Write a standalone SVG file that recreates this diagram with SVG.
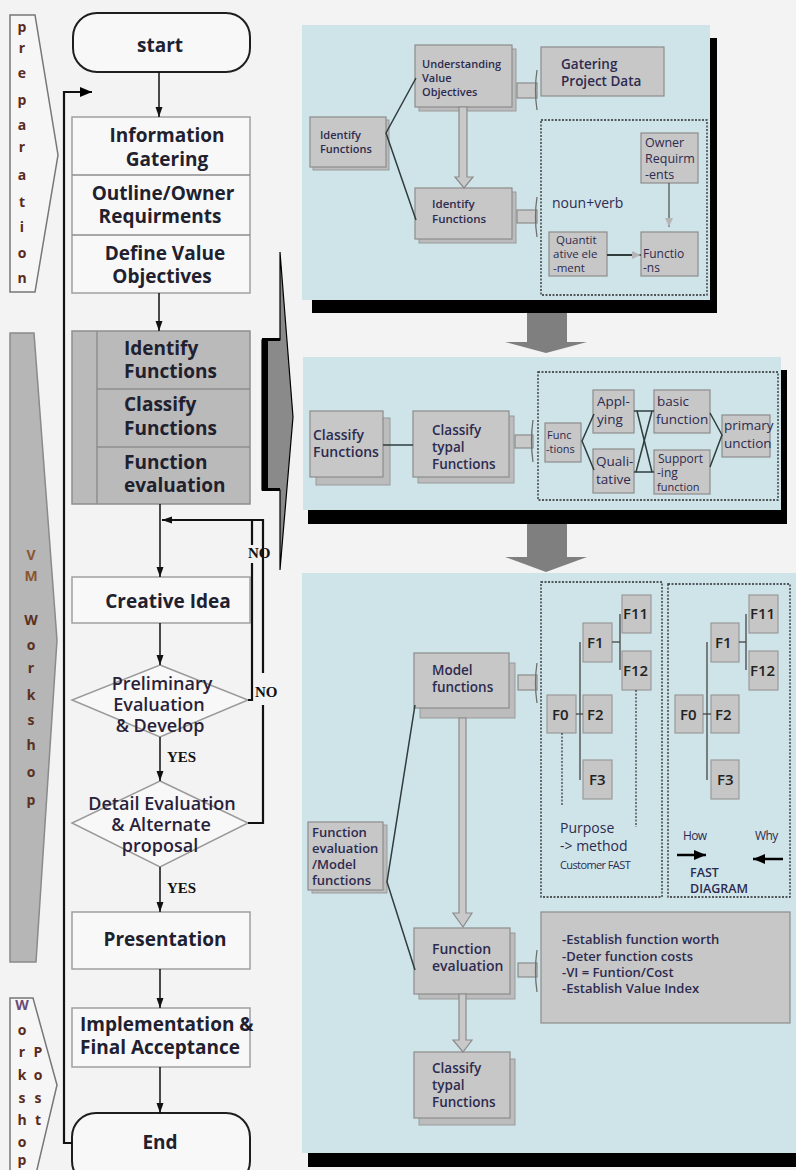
<svg xmlns="http://www.w3.org/2000/svg" width="796" height="1170" viewBox="0 0 796 1170">
<defs>
<style>
.bg{fill:#f3f3f3}
.lbox{fill:#f8f8f8;stroke:#a0a0a0;stroke-width:1.5}
.gbox{fill:#bababa;stroke:#8e8e8e;stroke-width:1.5}
.div{stroke:#8e8e8e;stroke-width:1.5}
.pill{fill:#f8f8f8;stroke:#1e1e1e;stroke-width:2}
.dia{fill:#f8f8f8;stroke:#9a9a9a;stroke-width:1.5}
.t1{font-family:"Open Sans","Noto Sans",sans-serif;font-weight:700;font-size:19px;fill:#20202e}
.tm{text-anchor:middle}
.td{font-family:"Open Sans","Noto Sans",sans-serif;font-weight:600;font-size:18px;fill:#2a1f3a;text-anchor:middle}
.yn{font-family:"Liberation Serif",serif;font-weight:700;font-size:15px;fill:#111}
.side{font-family:"Open Sans","Noto Sans",sans-serif;font-weight:700;font-size:14px;text-anchor:middle}
.flow{stroke:#111;stroke-width:1.5;fill:none}
.loop{stroke:#111;stroke-width:2.2;fill:none}
.panel{fill:#cfe4e9}
.blk{fill:#000}
.rb{fill:#c7c7c7;stroke:#8c8c8c;stroke-width:1.2}
.rs{fill:#bcbcbc;stroke:#9a9a9a;stroke-width:1}
.rt{font-family:"Open Sans","Noto Sans",sans-serif;font-weight:600;fill:#2d2b4f}
.rn{font-family:"Open Sans","Noto Sans",sans-serif;font-weight:400;fill:#2d2b4f}
.dash{fill:none;stroke:#2a2a2a;stroke-width:1.3;stroke-dasharray:2 1.5}
.hol{fill:#c9c9c9;stroke:#8c8c8c;stroke-width:1.2}
.bar{fill:none;stroke:#6f6f6f;stroke-width:1.3}
.rl{stroke:#2f3d3d;stroke-width:1.5;fill:none}
.fb{fill:#c6c6c6;stroke:#9a9a9a;stroke-width:1.2}
.ft{font-family:"Open Sans","Noto Sans",sans-serif;font-weight:600;font-size:15px;fill:#222}
</style>
<marker id="ah" markerWidth="10" markerHeight="8" refX="10" refY="4" orient="auto" markerUnits="userSpaceOnUse"><path d="M0,0.5 L10,4 L0,7.5 Z" fill="#111"/></marker>
<marker id="ahg" markerWidth="9" markerHeight="8" refX="9" refY="4" orient="auto" markerUnits="userSpaceOnUse"><path d="M0,0 L9,4 L0,8 Z" fill="#b5b5b5"/></marker>
<marker id="ahb" markerWidth="12" markerHeight="10" refX="12" refY="5" orient="auto" markerUnits="userSpaceOnUse"><path d="M0,0 L12,5 L0,10 Z" fill="#000"/></marker>
</defs>
<rect class="bg" x="0" y="0" width="796" height="1170"/>

<!-- phase labels -->
<g id="phase-preparation">
<polygon points="10,15 35,15 58,155 35,292 10,292" fill="#f6f6f6" stroke="#777" stroke-width="1.5"/>
<g class="side" fill="#5a2b1b">
<text x="22" y="32">p</text><text x="22" y="53">r</text><text x="22" y="78">e</text><text x="22" y="105">p</text><text x="22" y="130">a</text><text x="22" y="152">r</text><text x="22" y="180">a</text><text x="22" y="207">t</text><text x="22" y="232">i</text><text x="22" y="258">o</text><text x="22" y="283">n</text>
</g>
</g>
<g id="phase-vm-workshop">
<polygon points="10,333 34,333 57,640 36,962 10,962" fill="#b6b6b6" stroke="#8a8a8a" stroke-width="1.5"/>
<g class="side">
<text x="31" y="560" fill="#8a5530">V</text><text x="31" y="581" fill="#8a5530">M</text>
<g fill="#5a3020"><text x="31" y="625">W</text><text x="31" y="650">o</text><text x="31" y="673">r</text><text x="31" y="700">k</text><text x="31" y="725">s</text><text x="31" y="750">h</text><text x="31" y="777">o</text><text x="31" y="805">p</text></g>
</g>
</g>
<g id="phase-post-workshop">
<polygon points="10,998 33,998 57,1085 35,1178 10,1178" fill="#f6f6f6" stroke="#777" stroke-width="1.5"/>
<g class="side" fill="#5a2b1b">
<text x="22" y="1010" fill="#6a4a7a">W</text><text x="22" y="1035">o</text><text x="22" y="1057">r</text><text x="22" y="1080">k</text><text x="22" y="1103">s</text><text x="22" y="1125">h</text><text x="22" y="1147">o</text><text x="22" y="1165">p</text>
<text x="38" y="1057">P</text><text x="38" y="1080">o</text><text x="38" y="1103">s</text><text x="38" y="1125">t</text>
</g>
</g>

<!-- left flow nodes -->
<g id="n-start"><rect class="pill" x="73" y="13" width="177" height="59" rx="24"/><text class="t1 tm" x="160" y="52" font-size="25">start</text></g>
<g id="n-prep-steps">
<rect class="lbox" x="72" y="117" width="178" height="176"/>
<line class="div" x1="72" y1="175" x2="250" y2="175" stroke="#a0a0a0"/>
<line class="div" x1="72" y1="235" x2="250" y2="235" stroke="#a0a0a0"/>
<text class="t1 tm" x="167" y="142">Information</text><text class="t1 tm" x="167" y="166">Gatering</text>
<text class="t1 tm" x="163" y="200">Outline/Owner</text><text class="t1 tm" x="160" y="223">Requirments</text>
<text class="t1 tm" x="165" y="260">Define Value</text><text class="t1 tm" x="162" y="283">Objectives</text>
</g>
<g id="n-function-steps">
<rect class="gbox" x="72" y="331" width="178" height="173"/>
<line class="div" x1="97" y1="331" x2="97" y2="504"/>
<line class="div" x1="97" y1="389" x2="250" y2="389"/>
<line class="div" x1="97" y1="447" x2="250" y2="447"/>
<text class="t1" x="124" y="355">Identify</text><text class="t1" x="124" y="378">Functions</text>
<text class="t1" x="124" y="411">Classify</text><text class="t1" x="124" y="435">Functions</text>
<text class="t1" x="124" y="469">Function</text><text class="t1" x="124" y="492">evaluation</text>
</g>
<g id="n-creative"><rect class="lbox" x="72" y="577" width="178" height="46"/><text class="t1 tm" x="168" y="608">Creative Idea</text></g>
<g id="n-prelim"><polygon class="dia" points="160,665 248,700 160,737 72,700"/>
<text class="td" x="162" y="690">Preliminary</text><text class="td" x="159" y="711">Evaluation</text><text class="td" x="160" y="732">&amp; Develop</text></g>
<g id="n-detail"><polygon class="dia" points="160,781 248,823 160,867 72,823"/>
<text class="td" x="162" y="810">Detail Evaluation</text><text class="td" x="161" y="831">&amp; Alternate</text><text class="td" x="160" y="852">proposal</text></g>
<g id="n-presentation"><rect class="lbox" x="72" y="912" width="178" height="57"/><text class="t1 tm" x="165" y="946">Presentation</text></g>
<g id="n-implementation"><rect class="lbox" x="72" y="1008" width="178" height="59"/>
<text class="t1" x="80" y="1031" font-size="18">Implementation &amp;</text><text class="t1" x="80" y="1054" font-size="18">Final Acceptance</text></g>
<g id="n-end"><rect class="pill" x="72" y="1113" width="178" height="72" rx="24"/><text class="t1 tm" x="160" y="1149" font-size="22">End</text></g>

<!-- big transfer chevron -->
<g id="n-transfer-chevron">
<polygon points="262,340 280,340 280,252 293,417 280,570 280,490 262,490" fill="#8a8a8a" stroke="#000" stroke-width="1.2"/>
<rect x="262" y="340" width="6" height="150" fill="#000"/>
<rect x="262" y="338" width="18" height="3" fill="#000"/>
<rect x="262" y="488" width="18" height="3" fill="#000"/>
</g>

<!-- left connectors -->
<g id="connectors-left">
<line class="flow" x1="159" y1="72" x2="159" y2="117" marker-end="url(#ah)"/>
<line class="flow" x1="159" y1="293" x2="159" y2="331" marker-end="url(#ah)"/>
<line class="flow" x1="160" y1="504" x2="160" y2="577" marker-end="url(#ah)"/>
<line class="flow" x1="160" y1="623" x2="160" y2="665" marker-end="url(#ah)"/>
<line class="flow" x1="160" y1="737" x2="160" y2="781" marker-end="url(#ah)"/>
<line class="flow" x1="160" y1="867" x2="160" y2="912" marker-end="url(#ah)"/>
<line class="flow" x1="160" y1="969" x2="160" y2="1008" marker-end="url(#ah)"/>
<line class="flow" x1="160" y1="1067" x2="160" y2="1113" marker-end="url(#ah)"/>
<polyline class="loop" points="248,700 252,700 252,563"/>
<polyline class="loop" points="252,545 252,520"/>
<polyline class="loop" points="248,823 263,823 263,705"/>
<polyline class="loop" points="263,673 263,520 162,520" marker-end="url(#ah)"/>
<text class="yn" x="248" y="558">NO</text>
<text class="yn" x="255" y="697">NO</text>
<text class="yn" x="167" y="762">YES</text>
<text class="yn" x="167" y="893">YES</text>
<polyline class="loop" points="72,1143 64,1143 64,92 92,92" stroke-width="2.5" marker-end="url(#ahb)"/>
</g>

<!-- panel backgrounds -->
<g id="panel-frames">
<rect class="blk" x="312" y="38" width="405" height="275"/>
<rect class="panel" x="302" y="25" width="408" height="275"/>
<rect x="527" y="313" width="40" height="30" fill="#7f7f7f"/>
<polygon points="505,342 587,342 546,353" fill="#7f7f7f"/>
<rect class="blk" x="308" y="370" width="479" height="154"/>
<rect class="panel" x="303" y="357" width="478" height="153"/>
<rect x="527" y="524" width="40" height="34" fill="#7f7f7f"/>
<polygon points="505,557 587,557 546,572" fill="#7f7f7f"/>
<rect class="blk" x="308" y="1140" width="488" height="27"/>
<rect class="panel" x="302" y="573" width="494" height="580"/>
</g>

<!-- panel 1 -->
<g id="p1-identify"><rect class="rs" x="313" y="120" width="76" height="50"/><rect class="rb" x="310" y="117" width="76" height="50"/>
<text class="rt" x="320" y="139" font-size="11">Identify</text><text class="rt" x="320" y="153" font-size="11">Functions</text></g>
<g id="p1-understanding"><rect class="rs" x="419" y="49" width="97" height="62"/><rect class="rb" x="415" y="45" width="97" height="62"/>
<text class="rt" x="422" y="68" font-size="11">Understanding</text><text class="rt" x="422" y="82" font-size="11">Value</text><text class="rt" x="422" y="96" font-size="11">Objectives</text></g>
<g id="p1-gatering"><rect class="rb" x="541" y="47" width="123" height="49"/>
<text class="rt" x="561" y="69" font-size="13.5">Gatering</text><text class="rt" x="561" y="86" font-size="13.5">Project Data</text></g>
<g id="p1-identify2"><rect class="rs" x="419" y="192" width="97" height="51"/><rect class="rb" x="415" y="188" width="97" height="51"/>
<text class="rt" x="432" y="208" font-size="11.5">Identify</text><text class="rt" x="432" y="223" font-size="11.5">Functions</text></g>
<g id="p1-group"><rect class="dash" x="541" y="120" width="166" height="175"/>
<text class="rn" x="552" y="208" font-size="14">noun+verb</text></g>
<g id="p1-owner"><rect class="rb" x="641" y="133" width="57" height="50"/>
<text class="rn" x="645" y="147" font-size="12.5">Owner</text><text class="rn" x="645" y="163" font-size="12.5">Requirm</text><text class="rn" x="645" y="179" font-size="12.5">-ents</text></g>
<g id="p1-functions"><rect class="rb" x="641" y="232" width="57" height="44"/>
<text class="rn" x="643" y="258" font-size="12">Functio</text><text class="rn" x="643" y="272" font-size="12">-ns</text></g>
<g id="p1-quant"><rect class="rb" x="549" y="232" width="58" height="44"/>
<text class="rn" x="556" y="244" font-size="11.5">Quantit</text><text class="rn" x="553" y="258" font-size="11.5">ative ele</text><text class="rn" x="553" y="272" font-size="11.5">-ment</text></g>

<!-- panel 2 -->
<g id="p2-classify"><rect class="rs" x="316" y="418" width="74" height="67"/><rect class="rb" x="310" y="411" width="73" height="66"/>
<text class="rt" x="313" y="440" font-size="14">Classify</text><text class="rt" x="313" y="457" font-size="14">Functions</text></g>
<g id="p2-typal"><rect class="rs" x="418" y="416" width="96" height="67"/><rect class="rb" x="413" y="411" width="96" height="66"/>
<text class="rt" x="432" y="435" font-size="13.5">Classify</text><text class="rt" x="432" y="452" font-size="13.5">typal</text><text class="rt" x="432" y="469" font-size="13.5">Functions</text></g>
<g id="p2-group"><rect class="dash" x="538" y="372" width="240" height="128"/></g>
<g id="p2-func"><rect class="rb" x="545" y="423" width="36" height="39"/>
<text class="rn" x="547" y="439" font-size="11">Func</text><text class="rn" x="546" y="453" font-size="11">-tions</text></g>
<g id="p2-applying"><rect class="rb" x="593" y="390" width="41" height="43"/>
<text class="rn" x="597" y="406" font-size="13.5">Appl-</text><text class="rn" x="597" y="424" font-size="13.5">ying</text></g>
<g id="p2-qualitative"><rect class="rb" x="593" y="449" width="41" height="44"/>
<text class="rn" x="596" y="466" font-size="13.5">Quali-</text><text class="rn" x="596" y="484" font-size="13.5">tative</text></g>
<g id="p2-basic"><rect class="rb" x="654" y="390" width="56" height="43"/>
<text class="rn" x="657" y="406" font-size="13.5">basic</text><text class="rn" x="656" y="424" font-size="13.5">function</text></g>
<g id="p2-supporting"><rect class="rb" x="654" y="450" width="56" height="44"/>
<text class="rn" x="658" y="463" font-size="12">Support</text><text class="rn" x="657" y="477" font-size="12">-ing</text><text class="rn" x="657" y="491" font-size="11">function</text></g>
<g id="p2-primary"><rect class="rb" x="722" y="415" width="48" height="42"/>
<text class="rn" x="724" y="430" font-size="13.5">primary</text><text class="rn" x="724" y="448" font-size="13.5">unction</text></g>

<!-- panel 3 -->
<g id="p3-model"><rect class="rs" x="420" y="663" width="95" height="55"/><rect class="rb" x="414" y="653" width="95" height="55"/>
<text class="rt" x="432" y="675" font-size="13.5">Model</text><text class="rt" x="432" y="692" font-size="13.5">functions</text></g>
<g id="p3-fast-left"><rect class="dash" x="541" y="582" width="121" height="315"/>
<text class="rn" x="560" y="833" font-size="14">Purpose</text><text class="rn" x="560" y="851" font-size="14">-&gt; method</text>
<text class="rn" x="560" y="869" font-size="11" letter-spacing="-0.6">Customer FAST</text></g>
<g id="p3-fast-right"><rect class="dash" x="668" y="584" width="122" height="313"/>
<text class="rn" x="683" y="840" font-size="12" letter-spacing="-0.6">How</text><text class="rn" x="755" y="840" font-size="12" letter-spacing="-0.6">Why</text>
<text class="rt" x="690" y="877" font-size="12.5">FAST</text><text class="rt" x="690" y="893" font-size="12.5">DIAGRAM</text></g>
<g id="p3-F0a"><rect class="fb" x="547" y="695" width="29" height="38"/><text class="ft" x="552" y="720">F0</text></g>
<g id="p3-F1a"><rect class="fb" x="583" y="623" width="29" height="39"/><text class="ft" x="587" y="648">F1</text></g>
<g id="p3-F2a"><rect class="fb" x="583" y="695" width="29" height="38"/><text class="ft" x="587" y="720">F2</text></g>
<g id="p3-F3a"><rect class="fb" x="583" y="760" width="29" height="39"/><text class="ft" x="589" y="785">F3</text></g>
<g id="p3-F11a"><rect class="fb" x="622" y="595" width="29" height="38"/><text class="ft" x="623" y="619">F11</text></g>
<g id="p3-F12a"><rect class="fb" x="622" y="651" width="29" height="39"/><text class="ft" x="623" y="676">F12</text></g>
<g id="p3-F0b"><rect class="fb" x="675" y="695" width="28" height="38"/><text class="ft" x="680" y="720">F0</text></g>
<g id="p3-F1b"><rect class="fb" x="711" y="623" width="28" height="39"/><text class="ft" x="715" y="648">F1</text></g>
<g id="p3-F2b"><rect class="fb" x="711" y="695" width="28" height="38"/><text class="ft" x="715" y="720">F2</text></g>
<g id="p3-F3b"><rect class="fb" x="711" y="760" width="28" height="39"/><text class="ft" x="717" y="785">F3</text></g>
<g id="p3-F11b"><rect class="fb" x="749" y="595" width="29" height="38"/><text class="ft" x="750" y="619">F11</text></g>
<g id="p3-F12b"><rect class="fb" x="749" y="651" width="29" height="39"/><text class="ft" x="750" y="676">F12</text></g>
<g id="p3-fe-model"><rect class="rs" x="312" y="825" width="75" height="68"/><rect class="rb" x="308" y="822" width="75" height="68"/>
<text class="rt" x="312" y="837" font-size="13" fill="#4a2a45">Function</text><text class="rt" x="312" y="853" font-size="13" fill="#4a2a45">evaluation</text><text class="rt" x="312" y="869" font-size="13" fill="#4a2a45">/Model</text><text class="rt" x="312" y="885" font-size="13" fill="#4a2a45">functions</text></g>
<g id="p3-fe"><rect class="rs" x="419" y="933" width="96" height="66"/><rect class="rb" x="414" y="928" width="96" height="66"/>
<text class="rt" x="432" y="954" font-size="14">Function</text><text class="rt" x="432" y="971" font-size="14">evaluation</text></g>
<g id="p3-bullets"><rect class="rb" x="541" y="912" width="249" height="111"/>
<text class="rt" x="562" y="944" font-size="13">-Establish function worth</text><text class="rt" x="562" y="961" font-size="13">-Deter function costs</text>
<text class="rt" x="562" y="977" font-size="13">-VI =  Funtion/Cost</text><text class="rt" x="562" y="993" font-size="13">-Establish Value Index</text></g>
<g id="p3-typal"><rect class="rs" x="419" y="1059" width="96" height="66"/><rect class="rb" x="414" y="1052" width="96" height="66"/>
<text class="rt" x="432" y="1073" font-size="13.5">Classify</text><text class="rt" x="432" y="1090" font-size="13.5">typal</text><text class="rt" x="432" y="1107" font-size="13.5">Functions</text></g>

<!-- right connectors -->
<g id="connectors-right">
<polyline class="rl" points="416,78 386,133 416,220"/>
<polygon class="hol" points="459,107 467,107 467,177 473,177 464,188 455,177 459,177"/>
<rect class="hol" x="517" y="83" width="20" height="15"/><path class="bar" d="M537,70 Q534,90 537,110"/>
<rect class="hol" x="517" y="210" width="20" height="13"/><path class="bar" d="M537,197 Q534,217 537,237"/>
<line x1="669" y1="183" x2="669" y2="227" stroke="#555" stroke-width="1.3" marker-end="url(#ahg)"/>
<line x1="607" y1="255" x2="641" y2="255" stroke="#2f3d3d" stroke-width="1.8" marker-end="url(#ahg)"/>
<line class="rl" x1="383" y1="445" x2="413" y2="445"/>
<rect class="hol" x="515" y="435" width="18" height="13"/><path class="bar" d="M533,420 Q530,441 533,462"/>
<polyline class="rl" points="594,414 582,441 594,470"/>
<line class="rl" x1="634" y1="411" x2="654" y2="411"/>
<line class="rl" x1="634" y1="472" x2="654" y2="472"/>
<line class="rl" x1="637" y1="411" x2="652" y2="472"/>
<line class="rl" x1="652" y1="411" x2="636" y2="472"/>
<polyline class="rl" points="710,413 722,435 710,467"/>
<rect class="hol" x="518" y="675" width="19" height="15"/><path class="bar" d="M537,663 Q534,683 537,703"/>
<polygon class="hol" points="459,718 466,718 466,913 472,913 463,927 453,913 459,913"/>
<polyline class="rl" points="415,705 387,882 415,970"/>
<rect class="hol" x="518" y="963" width="19" height="14"/><path class="bar" d="M537,950 Q534,971 537,992"/>
<polygon class="hol" points="459,994 466,994 466,1040 472,1040 463,1052 453,1040 459,1040"/>
<g stroke="#444" stroke-width="1.3" fill="none">
<line x1="580" y1="642" x2="580" y2="780"/><line x1="576" y1="714" x2="583" y2="714"/>
<line x1="612" y1="642" x2="620" y2="642"/><line x1="620" y1="614" x2="620" y2="670"/>
<line x1="707" y1="642" x2="707" y2="780"/><line x1="703" y1="714" x2="711" y2="714"/>
<line x1="739" y1="642" x2="746" y2="642"/><line x1="746" y1="614" x2="746" y2="670"/>
</g>
<line x1="562" y1="733" x2="562" y2="805" stroke="#333" stroke-width="1.2" stroke-dasharray="2 1.5"/>
<line x1="636" y1="690" x2="636" y2="827" stroke="#333" stroke-width="1.2" stroke-dasharray="2 1.5"/>
<line x1="677" y1="855" x2="706" y2="855" stroke="#000" stroke-width="2.5" marker-end="url(#ahb)"/>
<line x1="783" y1="859" x2="753" y2="859" stroke="#000" stroke-width="2.5" marker-end="url(#ahb)"/>
</g>
</svg>
